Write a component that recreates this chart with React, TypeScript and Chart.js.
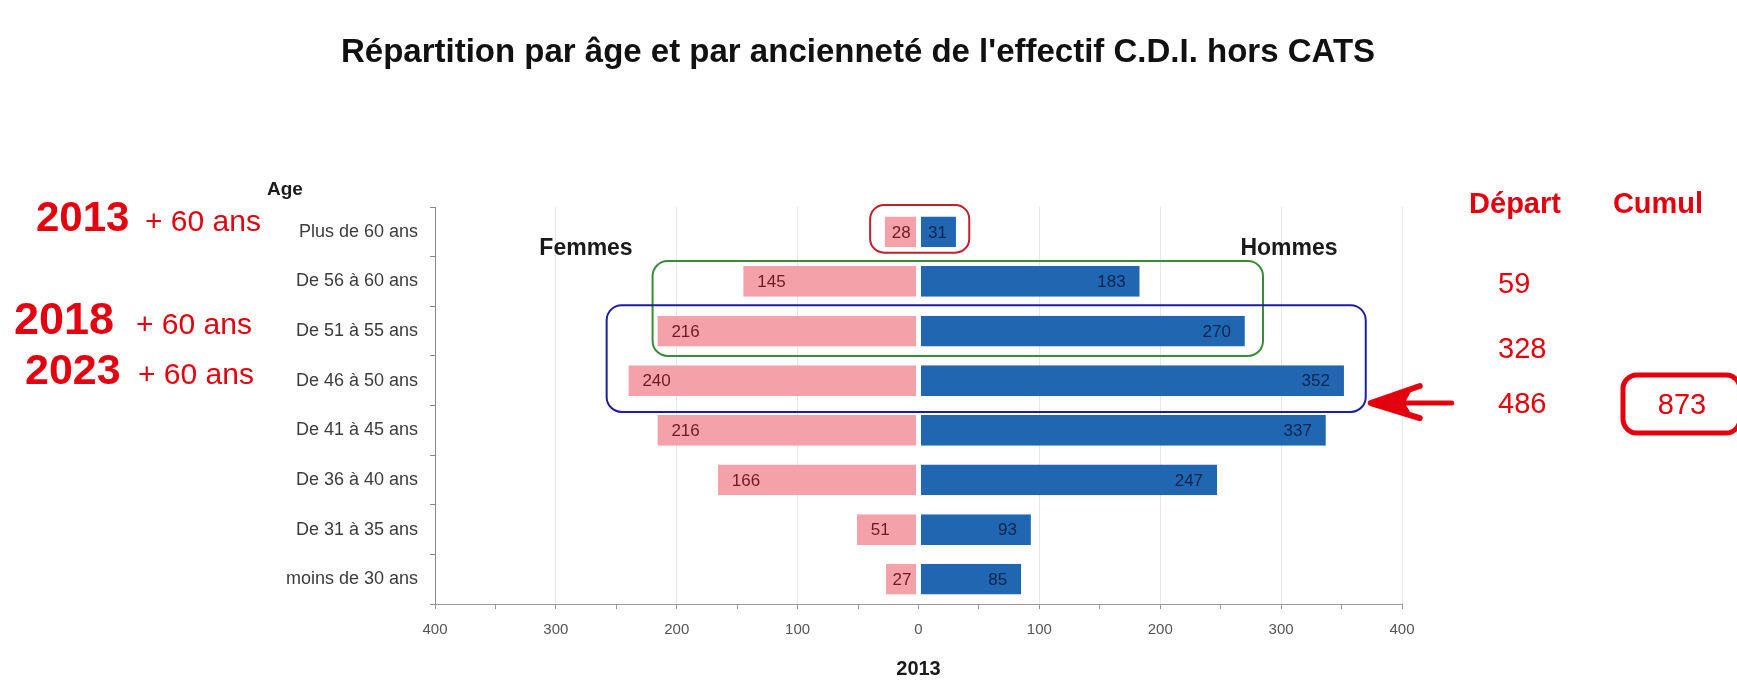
import React, { useEffect, useRef } from 'react';
import { Chart, registerables } from 'chart.js';

Chart.register(...registerables);

// ---------- data ----------
const TITLE = "Répartition par âge et par ancienneté de l'effectif C.D.I. hors CATS";
const categories = [
  'Plus de 60 ans',
  'De 56 à 60 ans',
  'De 51 à 55 ans',
  'De 46 à 50 ans',
  'De 41 à 45 ans',
  'De 36 à 40 ans',
  'De 31 à 35 ans',
  'moins de 30 ans',
];
const femmes = [28, 145, 216, 240, 216, 166, 51, 27];
const hommes = [31, 183, 270, 352, 337, 247, 93, 85];
const seriesNames = ['Femmes', 'Hommes'];
const xAxisTitle = '2013';
const yAxisTitle = 'Age';
const leftYears = ['2013', '2018', '2023'];
const leftSuffix = '+ 60 ans';
const departHeader = 'Départ';
const cumulHeader = 'Cumul';
const departValues = ['59', '328', '486'];
const cumulValue = '873';

// ---------- styles ----------
const FONT = '"Liberation Sans", Arial, Helvetica, sans-serif';
const PINK = '#f5a1a9';
const BLUE = '#2166b1';
const PINK_TXT = '#6e1a24';
const BLUE_TXT = '#0e2550';
const RED = '#e3000f';

function roundRect(ctx: CanvasRenderingContext2D, x0: number, y0: number, x1: number, y1: number, r: number) {
  ctx.beginPath();
  ctx.moveTo(x0 + r, y0);
  ctx.arcTo(x1, y0, x1, y1, r);
  ctx.arcTo(x1, y1, x0, y1, r);
  ctx.arcTo(x0, y1, x0, y0, r);
  ctx.arcTo(x0, y0, x1, y0, r);
  ctx.closePath();
}

const barLabelPlugin = {
  id: 'barLabels',
  afterDatasetsDraw(chart: any) {
    const ctx: CanvasRenderingContext2D = chart.ctx;
    ctx.save();
    ctx.font = `17px ${FONT}`;
    ctx.textBaseline = 'middle';
    chart.data.datasets.forEach((_ds: any, di: number) => {
      const meta = chart.getDatasetMeta(di);
      const values = di === 0 ? femmes : hommes;
      meta.data.forEach((el: any, i: number) => {
        const { x, y, base } = el.getProps(['x', 'y', 'base'], true);
        const text = String(values[i]);
        const tw = ctx.measureText(text).width;
        const len = Math.abs(x - base);
        const off = Math.min(14, Math.max(2, (len - tw) / 2));
        if (di === 0) {
          ctx.textAlign = 'left';
          ctx.fillStyle = PINK_TXT;
          ctx.fillText(text, x + off, y + 1);
        } else {
          ctx.textAlign = 'right';
          ctx.fillStyle = BLUE_TXT;
          ctx.fillText(text, x - off, y + 1);
        }
      });
    });
    ctx.restore();
  },
};

const annotationPlugin = {
  id: 'annotations',
  afterDraw(chart: any) {
    const ctx: CanvasRenderingContext2D = chart.ctx;
    const xs = chart.scales.x;
    const ys = chart.scales.y;
    ctx.save();

    // main title
    ctx.fillStyle = '#111';
    ctx.font = `bold 33px ${FONT}`;
    ctx.textAlign = 'center';
    ctx.textBaseline = 'alphabetic';
    ctx.fillText(TITLE, 858, 62);

    // axis caption "Age"
    ctx.font = `bold 19px ${FONT}`;
    ctx.textAlign = 'left';
    ctx.fillStyle = '#1a1a1a';
    ctx.fillText(yAxisTitle, 267, 195);

    // series captions
    ctx.font = `bold 23px ${FONT}`;
    ctx.textAlign = 'center';
    ctx.fillText(seriesNames[0], 586, 255);
    ctx.fillText(seriesNames[1], 1289, 255);

    // rounded boxes (in data space)
    const boxes = [
      { x: [-40, 42], y: [-0.54, 0.42], color: '#c21f2c', r: 14 },
      { x: [-220, 285], y: [0.59, 2.5], color: '#3b8b3b', r: 15 },
      { x: [-258, 370], y: [1.48, 3.63], color: '#1d1da0', r: 15 },
    ];
    ctx.lineWidth = 2;
    let blueRight = 0;
    let arrowY = 0;
    boxes.forEach((b, i) => {
      const x0 = xs.getPixelForValue(b.x[0]);
      const x1 = xs.getPixelForValue(b.x[1]);
      const y0 = ys.getPixelForValue(b.y[0]);
      const y1 = ys.getPixelForValue(b.y[1]);
      ctx.strokeStyle = b.color;
      roundRect(ctx, x0, y0, x1, y1, b.r);
      ctx.stroke();
      if (i === 2) {
        blueRight = x1;
        arrowY = ys.getPixelForValue(3.45);
      }
    });

    // red arrow
    const tipX = blueRight + 5;
    ctx.strokeStyle = RED;
    ctx.fillStyle = RED;
    ctx.lineCap = 'round';
    ctx.lineJoin = 'round';
    ctx.lineWidth = 5;
    ctx.beginPath();
    ctx.moveTo(tipX + 8, arrowY);
    ctx.lineTo(tipX + 81, arrowY);
    ctx.stroke();
    ctx.lineWidth = 6;
    ctx.beginPath();
    ctx.moveTo(tipX + 49, arrowY - 17);
    ctx.lineTo(tipX, arrowY);
    ctx.lineTo(tipX + 49, arrowY + 15);
    ctx.stroke();
    ctx.beginPath();
    ctx.moveTo(tipX + 2, arrowY);
    ctx.lineTo(tipX + 40, arrowY - 11);
    ctx.lineTo(tipX + 34, arrowY);
    ctx.lineTo(tipX + 40, arrowY + 10);
    ctx.closePath();
    ctx.fill();

    // left annotations
    const leftRows = [
      { x: 36, sx: 145, yb: 231, fs: 42 },
      { x: 14, sx: 136, yb: 334, fs: 45 },
      { x: 25, sx: 138, yb: 384, fs: 43 },
    ];
    ctx.fillStyle = RED;
    ctx.textAlign = 'left';
    leftRows.forEach((r, i) => {
      ctx.font = `bold ${r.fs}px ${FONT}`;
      ctx.fillText(leftYears[i], r.x, r.yb);
      ctx.font = `30px ${FONT}`;
      ctx.fillText(leftSuffix, r.sx, r.yb);
    });

    // right annotations
    ctx.font = `bold 29px ${FONT}`;
    ctx.textAlign = 'center';
    ctx.fillText(departHeader, 1515, 213);
    ctx.fillText(cumulHeader, 1658, 213);
    ctx.font = `29px ${FONT}`;
    ctx.textAlign = 'left';
    const depBase = [293, 358, 413];
    departValues.forEach((t, i) => ctx.fillText(t, 1498, depBase[i]));
    ctx.textAlign = 'center';
    ctx.fillText(cumulValue, 1682, 414);
    ctx.strokeStyle = RED;
    ctx.lineWidth = 5;
    roundRect(ctx, 1623, 375, 1740, 433, 14);
    ctx.stroke();

    ctx.restore();
  },
};

export default function App() {
  const ref = useRef<HTMLCanvasElement>(null);
  useEffect(() => {
    const canvas = ref.current!;
    const chart = new Chart(canvas, {
      type: 'bar',
      data: {
        labels: categories,
        datasets: [
          {
            label: seriesNames[0],
            data: femmes.map((v) => -v),
            backgroundColor: PINK,
            borderColor: '#ffffff',
            borderWidth: { top: 0, bottom: 0, left: 0, right: 2 },
            borderSkipped: false,
            barPercentage: 0.62,
            categoryPercentage: 1,
          },
          {
            label: seriesNames[1],
            data: hommes,
            backgroundColor: BLUE,
            borderColor: '#ffffff',
            borderWidth: { top: 0, bottom: 0, left: 2, right: 0 },
            borderSkipped: false,
            barPercentage: 0.62,
            categoryPercentage: 1,
          },
        ],
      },
      options: {
        indexAxis: 'y',
        responsive: false,
        animation: false,
        layout: { padding: { top: 207, right: 335, bottom: 0, left: 0 } },
        plugins: {
          legend: { display: false },
          tooltip: { enabled: false },
          title: { display: false },
        },
        scales: {
          x: {
            stacked: true,
            min: -400,
            max: 400,
            ticks: {
              stepSize: 50,
              autoSkip: false,
              maxRotation: 0,
              padding: 12,
              color: '#555',
              font: { family: FONT, size: 15 },
              callback: (v: any) => (Number(v) % 100 === 0 ? String(Math.abs(Number(v))) : ''),
            },
            grid: {
              color: (c: any) => {
                const v = c.tick ? c.tick.value : undefined;
                return v !== undefined && v % 100 === 0 && v !== 0 ? '#e6e6e6' : 'rgba(0,0,0,0)';
              },
              tickColor: '#999',
              tickLength: 5,
            },
            border: { color: '#999', width: 1 },
            title: {
              display: true,
              text: xAxisTitle,
              color: '#1a1a1a',
              font: { family: FONT, size: 20, weight: 'bold' },
              padding: { top: 0, bottom: 1 },
            },
            afterFit: (s: any) => {
              s.height = 78;
            },
          },
          y: {
            stacked: true,
            ticks: {
              color: '#3c3c3c',
              font: { family: FONT, size: 18 },
              padding: 12,
              autoSkip: false,
            },
            grid: { drawOnChartArea: false, tickLength: 5, tickColor: '#888' },
            border: { color: '#888', width: 1 },
            afterFit: (s: any) => {
              s.width = 435;
            },
          },
        },
      } as any,
      plugins: [barLabelPlugin, annotationPlugin],
    });
    return () => chart.destroy();
  }, []);
  return (
    <div style={{ position: 'fixed', left: 0, top: 0, width: 1737, height: 682, background: '#fff' }}>
      <canvas ref={ref} width={1737} height={682} style={{ display: 'block' }} />
    </div>
  );
}
